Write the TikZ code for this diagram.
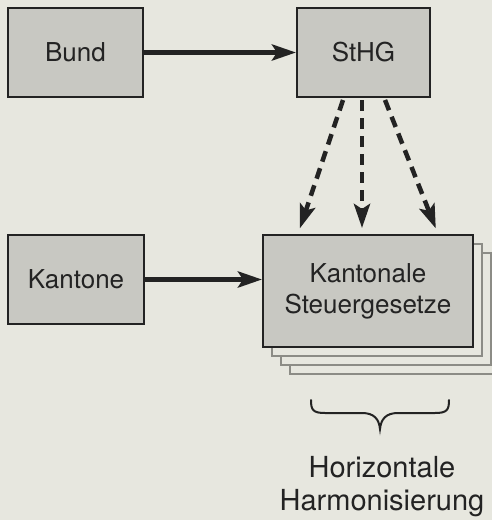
\documentclass[tikz,border=0pt]{standalone}
\usepackage{fontspec}
\setmainfont{TeX Gyre Heros}
\usetikzlibrary{arrows.meta,calc}
\definecolor{bgc}{RGB}{231,231,223}
\definecolor{boxc}{RGB}{200,200,194}
\definecolor{sheetb}{RGB}{140,140,134}
\definecolor{ink}{RGB}{35,35,35}
\tikzset{
  box/.style={draw=ink, line width=2pt, fill=boxc, minimum height=89pt, inner sep=0pt,
    font=\fontsize{26}{31}\selectfont, text=ink, align=center},
  sheet/.style={draw=sheetb, line width=2pt, fill=bgc},
  solidarrow/.style={draw=ink, line width=5pt, -{Stealth[length=24pt,width=16pt,inset=5pt]}},
  dasharrow/.style={draw=ink, line width=4.5pt, dash pattern=on 11pt off 7pt, shorten >=6pt,
    -{Stealth[length=24pt,width=16pt,inset=5pt]}},
  bracestyle/.style={draw=ink, line width=2pt, line cap=round},
}
\begin{document}
\begin{tikzpicture}[x=1pt,y=-1pt]
\useasboundingbox (0,0) rectangle (492,520);
\fill[bgc] (0,0) rectangle (492,520);
\clip (0,0) rectangle (492,520);
% back sheets
\draw[sheet] (263+27,235+27) rectangle (473+27,347+27);
\draw[sheet] (263+18,235+18) rectangle (473+18,347+18);
\draw[sheet] (263+9,235+9) rectangle (473+9,347+9);
\node[box, minimum width=135pt] (bund) at (75.5,52.5) {Bund};
\node[box, minimum width=133pt] (sthg) at (363.5,52.5) {StHG};
\node[box, minimum width=136pt] (kant) at (76,279.5) {Kantone};
\node[box, minimum width=210pt, minimum height=112pt] (kst) at (368,291) {Kantonale\\Steuergesetze};
\draw[solidarrow] (bund.east) -- (sthg.west);
\draw[solidarrow] (kant.east) -- (kant.east -| kst.west);
\draw[dasharrow] ($(sthg.south)+(-20.5,2)$) -- ($(kst.north)+(-70,0)$);
\draw[dasharrow] ($(sthg.south)+(-1.5,2)$) -- ($(kst.north)+(-6,0)$);
\draw[dasharrow] ($(sthg.south)+(21.5,2)$) -- ($(kst.north)+(70,0)$);
\coordinate (bl) at (311,400);
\coordinate (br) at (449,400);
\coordinate (btip) at (380,429);
\draw[bracestyle] (bl) .. controls (311,410) and (313,413) .. (325,413)
  -- (362,413) .. controls (374,413) and (379,419) .. (btip)
  .. controls (381,419) and (386,413) .. (398,413)
  -- (435,413) .. controls (447,413) and (449,410) .. (br);
\node[font=\fontsize{29}{33}\selectfont, text=ink, align=center] (lab) at (382,487) {Horizontale\\Harmonisierung};
\end{tikzpicture}
\end{document}
